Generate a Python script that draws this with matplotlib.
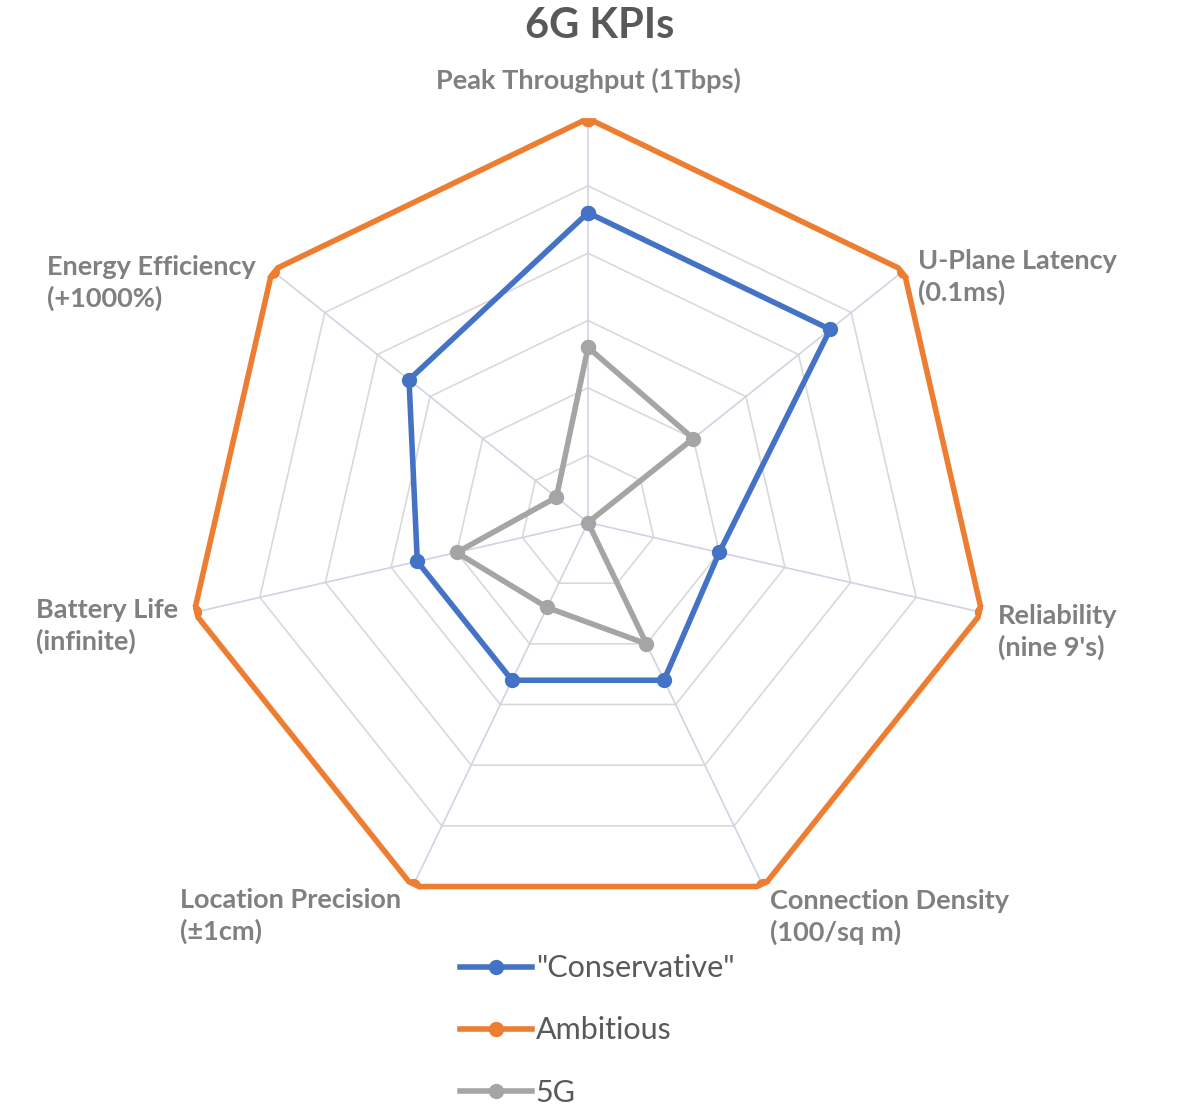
import numpy as np
import matplotlib
matplotlib.use("Agg")
import matplotlib.pyplot as plt

plt.rcParams['font.family'] = ['Lato', 'DejaVu Sans']

categories = ["Peak Throughput (1Tbps)", "U-Plane Latency\n(0.1ms)", "Reliability\n(nine 9's)",
              "Connection Density\n(100/sq m)", "Location Precision\n(±1cm)", "Battery Life\n(infinite)",
              "Energy Efficiency\n(+1000%)"]
conservative = [4.6, 4.6, 2.0, 2.6, 2.6, 2.6, 3.4]
ambitious = [6, 6, 6, 6, 6, 6, 6]
fiveg = [2.6, 2.0, 0.0, 2.0, 1.4, 2.0, 0.6]
series_names = ['"Conservative"', 'Ambitious', '5G']
colors = ['#4472C4', '#ED7D31', '#A5A5A5']
ring_levels = [1, 2, 3, 4, 5, 6]

W, H = 1180, 1111
fig = plt.figure(figsize=(W / 100, H / 100), dpi=100)

cx, cy, R = 588, 522.5, 404
ax = fig.add_axes([(cx - R) / W, 1 - (cy + R) / H, 2 * R / W, 2 * R / H], projection='polar')
ax.set_theta_offset(np.pi / 2)
ax.set_theta_direction(-1)
ax.set_ylim(0, 6)
ax.grid(False)
ax.spines['polar'].set_visible(False)
ax.set_xticks([])
ax.set_yticks([])
ax.patch.set_alpha(0)

n = len(categories)
theta = np.linspace(0, 2 * np.pi, n, endpoint=False)
theta_c = np.append(theta, theta[0])

for lv in ring_levels:
    ax.plot(theta_c, [lv] * (n + 1), color='#d9d9d9', lw=1.2, zorder=1)
for t in theta:
    ax.plot([t, t], [0, ring_levels[-1]], color='#cdd5e3', lw=1.2, zorder=1)

handles = []
for vals, name, col in zip([conservative, ambitious, fiveg], series_names, colors):
    v = np.append(vals, vals[0])
    h, = ax.plot(theta_c, v, color=col, lw=4.0, marker='o', markersize=10,
                 solid_joinstyle='miter', zorder=3, label=name)
    handles.append(h)

fig.text(600 / W, 1 - 26 / H, "6G KPIs", ha='center', va='center', fontsize=30,
         fontweight='bold', color='#595959')

lab_col = '#808080'
lab_fs = 19.5
label_pos = [
    (588, 80, 'center', 'center'),
    (918, 277, 'left', 'center'),
    (998, 632, 'left', 'center'),
    (770, 917, 'left', 'center'),
    (401, 916, 'right', 'center'),
    (178, 626, 'right', 'center'),
    (256, 283, 'right', 'center'),
]
for lab, (x, y, ha, va) in zip(categories, label_pos):
    fig.text(x / W, 1 - y / H, lab, ha=ha, va=va, fontsize=lab_fs, fontweight='bold',
             color=lab_col, multialignment='left', linespacing=1.3)

leg = fig.legend(handles=handles, labels=series_names, loc='upper left',
                 bbox_to_anchor=(448 / W, 1 - 942 / H), frameon=False, fontsize=22,
                 handlelength=2.35, handletextpad=0.12, labelspacing=1.12, borderaxespad=0)
for t in leg.get_texts():
    t.set_color('#595959')

fig.savefig('out.png', dpi=100, facecolor='white')
